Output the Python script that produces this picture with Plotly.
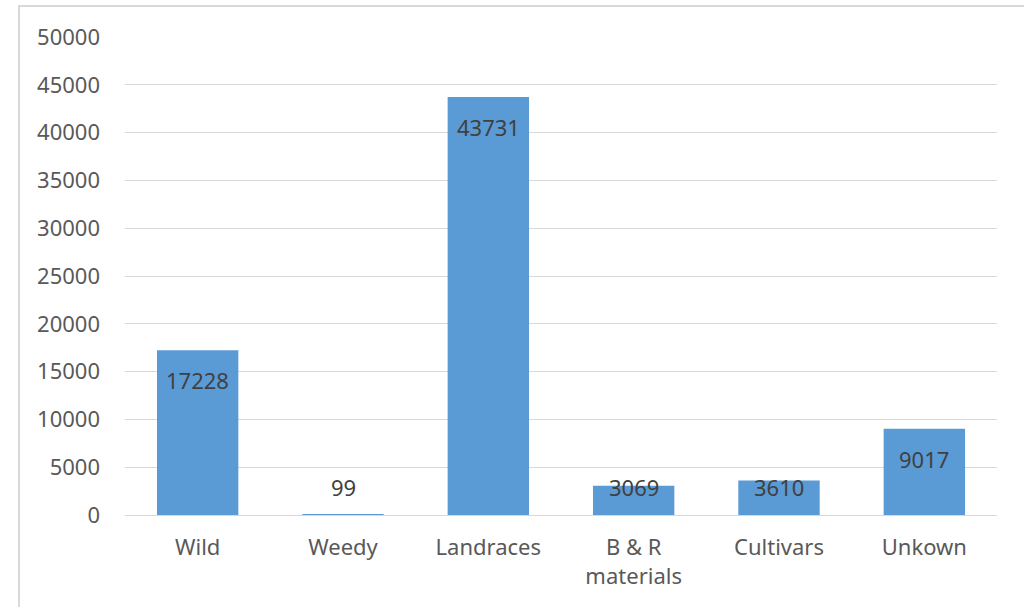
import plotly.graph_objects as go

categories = ["Wild", "Weedy", "Landraces", "B & R<br>materials", "Cultivars", "Unkown"]
values = [17228, 99, 43731, 3069, 3610, 9017]
y_ticks = [0, 5000, 10000, 15000, 20000, 25000, 30000, 35000, 40000, 45000, 50000]
y_tick_text = [str(t) for t in y_ticks]

W, H = 1024, 607
ml, mr, mt, mb = 125, 27, 37, 92
plot_h = H - mt - mb
ymax = 50000
unit_per_px = ymax / plot_h

font_family = "Noto Sans"
fig = go.Figure()
fig.add_trace(go.Bar(
    x=categories, y=values,
    marker=dict(color="#5B9BD5", line=dict(width=0)),
    hoverinfo="x+y",
))

# data labels: inside end, kept above the baseline
for c, v in zip(categories, values):
    ly = max(v - 30 * unit_per_px, 28 * unit_per_px)
    fig.add_annotation(x=c, y=ly, text=str(v), showarrow=False,
                       yanchor="middle", xanchor="center",
                       font=dict(family=font_family, size=22, color="#404040"))

# chart border (top/left visible)
fig.add_shape(type="rect", xref="paper", yref="paper",
              x0=(19 - ml) / (W - ml - mr), x1=1.2,
              y0=-0.5, y1=1 + (mt - 6) / plot_h,
              line=dict(color="#D9D9D9", width=2), layer="below")

fig.update_layout(
    width=W, height=H,
    margin=dict(l=ml, r=mr, t=mt, b=mb, pad=0, autoexpand=False),
    paper_bgcolor="white", plot_bgcolor="white",
    bargap=0.44,
    showlegend=False,
    font=dict(family=font_family, size=22, color="#595959"),
    xaxis=dict(showgrid=False, showline=False, ticks="", tickfont=dict(size=22, color="#595959"),
               ticklabelstandoff=17, automargin=False),
    yaxis=dict(range=[0, ymax], tickvals=y_ticks, ticktext=y_tick_text, showgrid=True,
               gridcolor="#D9D9D9", gridwidth=1, zeroline=True, zerolinecolor="#D9D9D9",
               zerolinewidth=1, showline=False, ticks="", tickfont=dict(size=22, color="#595959"),
               ticklabelstandoff=24, automargin=False),
)

fig.write_html("out.html", config={"displayModeBar": False},
               post_script="document.body.style.margin='0px';document.body.style.overflow='hidden';")
